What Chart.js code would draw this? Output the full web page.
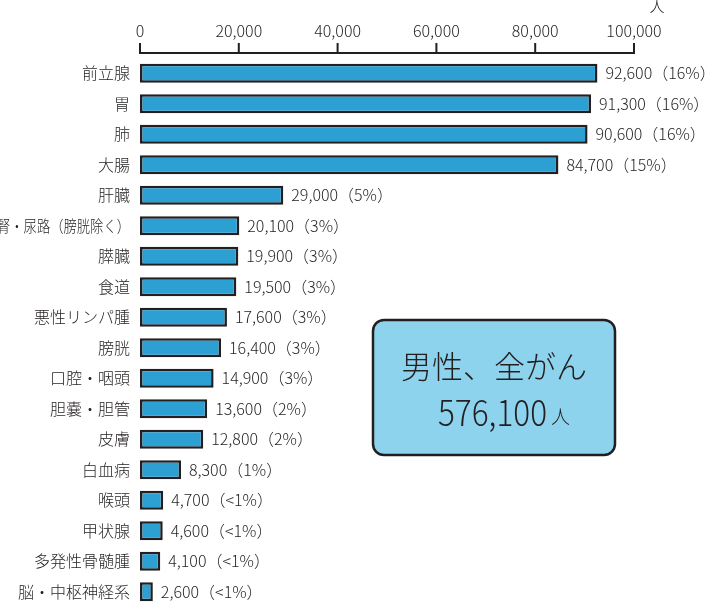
<!DOCTYPE html>
<html lang="ja">
<head>
<meta charset="utf-8">
<script src="https://cdn.jsdelivr.net/npm/chart.js@4"></script>
<style>
  html, body { margin: 0; padding: 0; background: #fff; }
  #wrap { position: relative; width: 706px; height: 612px; }
</style>
</head>
<body>
<div id="wrap"><canvas id="cancerChart" width="706" height="612"></canvas></div>
<script>
// 部位別 罹患数（男性）
const categories = ['前立腺', '胃', '肺', '大腸', '肝臓', '腎・尿路（膀胱除く）', '膵臓', '食道',
    '悪性リンパ腫', '膀胱', '口腔・咽頭', '胆嚢・胆管', '皮膚', '白血病', '喉頭', '甲状腺',
    '多発性骨髄腫', '脳・中枢神経系'];
const patients = [92600, 91300, 90600, 84700, 29000, 20100, 19900, 19500,
    17600, 16400, 14900, 13600, 12800, 8300, 4700, 4600, 4100, 2600];
const shares = ['16%', '16%', '16%', '15%', '5%', '3%', '3%', '3%',
    '3%', '3%', '3%', '2%', '2%', '1%', '<1%', '<1%', '<1%', '<1%'];
const xTicks = [0, 20000, 40000, 60000, 80000, 100000];
const totalLabel = '576,100';

const INK = '#231f20';
const FONT = '"Noto Sans CJK JP", "Noto Sans", sans-serif';

document.addEventListener('DOMContentLoaded', function() {

    // ======================= //
    //   AXIS + LABELS PLUGIN  //
    // ======================= //
    const labelsPlugin = {
        id: 'labelsPlugin',
        afterDatasetsDraw(chart) {
            const { ctx, chartArea, scales } = chart;
            const x = scales.x, y = scales.y;
            const axisY = chartArea.top - 5;

            ctx.save();
            ctx.strokeStyle = INK;
            ctx.fillStyle = INK;

            // top axis line and ticks
            ctx.lineWidth = 2;
            ctx.beginPath();
            ctx.moveTo(x.getPixelForValue(0), axisY);
            ctx.lineTo(x.getPixelForValue(100000), axisY);
            xTicks.forEach(t => {
                const px = x.getPixelForValue(t);
                ctx.moveTo(px, axisY + 1);
                ctx.lineTo(px, axisY - 10);
            });
            ctx.stroke();

            ctx.font = '300 16px ' + FONT;
            ctx.textAlign = 'center';
            ctx.textBaseline = 'middle';
            xTicks.forEach(t => {
                ctx.fillText(t.toLocaleString('en-US'), x.getPixelForValue(t), 31);
            });
            ctx.font = '300 15px ' + FONT;
            ctx.fillText('人', x.getPixelForValue(100000) + 23, 6);

            // category labels (squeezed if too long, like the long kidney label)
            ctx.font = '300 16px ' + FONT;
            ctx.textAlign = 'right';
            categories.forEach((c, i) => {
                ctx.fillText(c, chartArea.left - 10, y.getPixelForValue(i), 133);
            });

            // value labels
            ctx.font = '300 16px ' + FONT;
            ctx.textAlign = 'left';
            const meta = chart.getDatasetMeta(0);
            meta.data.forEach((bar, i) => {
                const txt = patients[i].toLocaleString('en-US') + '（' + shares[i] + '）';
                ctx.fillText(txt, bar.x + 8, bar.y);
            });

            // total box
            const bx = 373, by = 320, bw = 242, bh = 135;
            ctx.beginPath();
            ctx.roundRect(bx, by, bw, bh, 11);
            ctx.fillStyle = '#8dd3ee';
            ctx.fill();
            ctx.lineWidth = 2.5;
            ctx.stroke();

            ctx.fillStyle = INK;
            ctx.textAlign = 'center';
            ctx.textBaseline = 'alphabetic';
            ctx.font = '300 31px ' + FONT;
            ctx.fillText('男性、全がん', bx + bw / 2, 378);
            ctx.font = '300 35px ' + FONT;
            ctx.textAlign = 'left';
            ctx.fillText(totalLabel, 438, 426, 109);
            ctx.font = '300 19px ' + FONT;
            ctx.fillText('人', 551, 424);
            ctx.restore();
        }
    };

    // ======================= //
    //       BAR CHART         //
    // ======================= //
    const ctx = document.getElementById('cancerChart').getContext('2d');
    new Chart(ctx, {
        type: 'bar',
        data: {
            labels: categories,
            datasets: [{
                label: '罹患数',
                data: patients,
                backgroundColor: '#2da0d3',
                borderColor: INK,
                borderWidth: 2.5,
                borderSkipped: false,
                barPercentage: 0.62,
                categoryPercentage: 1
            }]
        },
        options: {
            indexAxis: 'y',
            responsive: false,
            animation: false,
            layout: {
                padding: { left: 140, right: 72, top: 58, bottom: 5 }
            },
            scales: {
                x: { display: false, min: 0, max: 100000 },
                y: { display: false }
            },
            plugins: {
                legend: { display: false },
                tooltip: { enabled: false }
            }
        },
        plugins: [labelsPlugin]
    });
});
</script>
</body>
</html>
